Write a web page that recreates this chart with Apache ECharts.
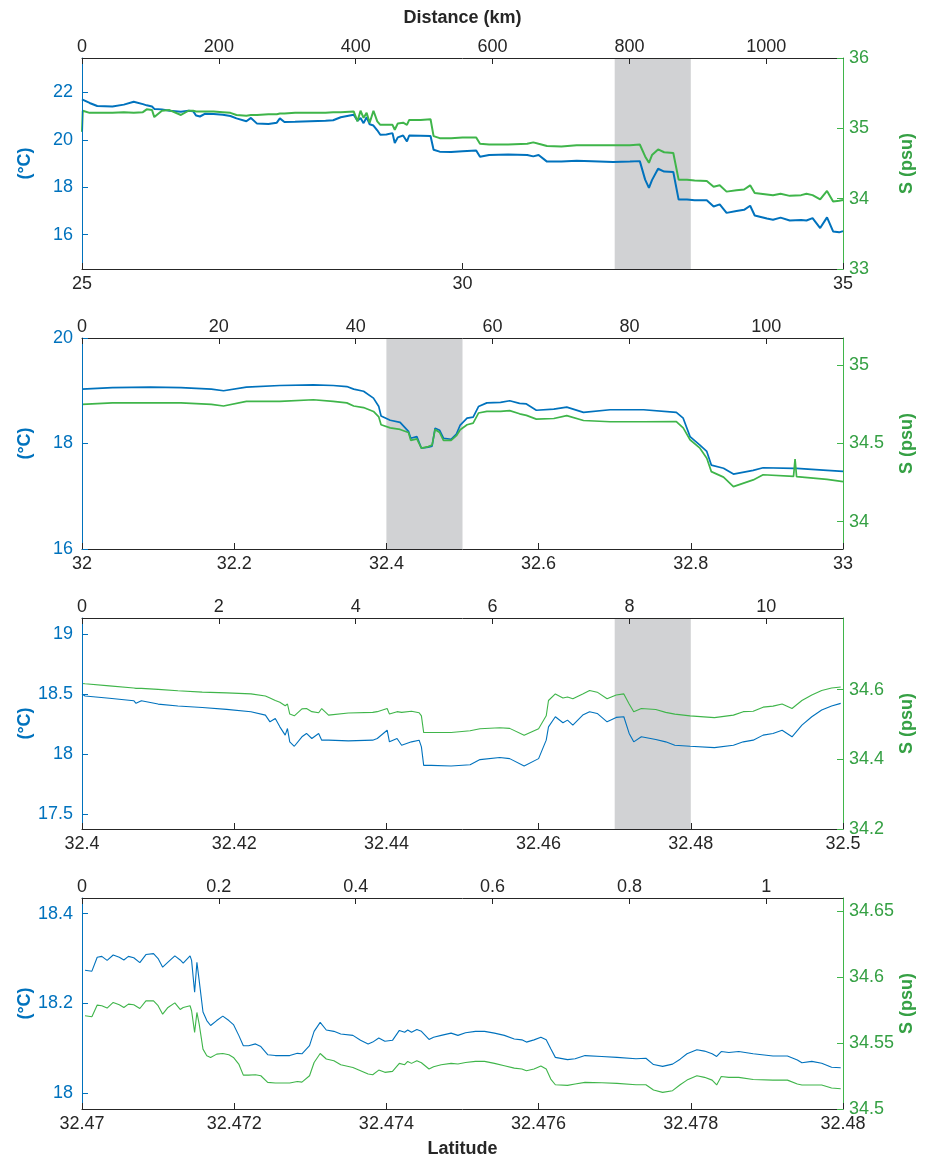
<!DOCTYPE html>
<html>
<head>
<meta charset="utf-8">
<script src="https://cdn.jsdelivr.net/npm/echarts@6/dist/echarts.min.js"></script>
<style>
html,body{margin:0;padding:0;background:#fff;}
#chart{width:927px;height:1159px;}
</style>
</head>
<body>
<div id="chart"></div>
<script>
// ---------------- DATA ----------------
// Panel 1 (latitude 25-35)
const p1Lat = [25.00,25.01,25.10,25.20,25.40,25.55,25.68,25.80,25.85,25.92,
  25.95,26.05,26.15,26.30,26.40,26.46,26.50,26.55,26.62,26.73,
  26.85,26.95,27.03,27.16,27.22,27.30,27.45,27.56,27.60,27.66,
  27.80,28.00,28.20,28.30,28.40,28.57,28.62,28.66,28.70,28.74,
  28.78,28.83,28.88,28.92,29.00,29.08,29.11,29.15,29.22,29.27,
  29.30,29.45,29.58,29.62,29.70,29.85,30.00,30.18,30.23,30.35,
  30.60,30.85,30.93,31.00,31.11,31.30,31.50,31.70,31.98,32.20,
  32.33,32.40,32.45,32.49,32.57,32.65,32.77,32.84,32.95,33.05,
  33.21,33.30,33.38,33.47,33.60,33.70,33.78,33.84,34.00,34.08,
  34.18,34.30,34.45,34.52,34.60,34.70,34.79,34.87,34.95,35.00];
const p1Temp = [21.70,21.70,21.55,21.42,21.40,21.48,21.60,21.50,21.45,21.40,
  21.30,21.28,21.22,21.18,21.22,21.20,21.02,20.98,21.10,21.08,
  21.05,21.00,20.90,20.78,20.92,20.68,20.66,20.72,20.90,20.75,
  20.76,20.78,20.80,20.82,20.95,21.05,20.80,20.92,20.70,20.95,
  20.65,20.60,20.40,20.21,20.22,20.28,19.86,20.10,20.18,19.93,
  20.18,20.17,20.16,19.58,19.50,19.48,19.52,19.55,19.28,19.36,
  19.38,19.36,19.30,19.36,19.08,19.08,19.12,19.10,19.06,19.08,
  19.10,18.32,17.97,18.30,18.78,18.66,18.64,17.48,17.48,17.45,
  17.45,17.19,17.28,16.92,17.00,17.05,17.22,16.81,16.68,16.63,
  16.72,16.60,16.62,16.60,16.70,16.28,16.73,16.14,16.10,16.15];
const p1Sal = [34.95,35.25,35.22,35.22,35.22,35.23,35.22,35.23,35.27,35.26,
  35.16,35.25,35.26,35.19,35.25,35.25,35.24,35.24,35.24,35.24,
  35.23,35.22,35.19,35.18,35.19,35.19,35.20,35.20,35.21,35.21,
  35.22,35.22,35.22,35.23,35.23,35.24,35.10,35.25,35.15,35.22,
  35.08,35.25,35.10,35.05,35.05,35.05,34.98,35.07,35.08,35.05,
  35.12,35.12,35.13,34.89,34.86,34.86,34.87,34.87,34.78,34.77,
  34.77,34.78,34.80,34.78,34.75,34.74,34.76,34.76,34.76,34.76,
  34.77,34.60,34.51,34.62,34.70,34.66,34.65,34.27,34.27,34.26,
  34.25,34.17,34.19,34.10,34.12,34.13,34.19,34.08,34.06,34.05,
  34.07,34.04,34.05,34.07,34.05,33.99,34.11,33.96,33.97,33.98];

// Panel 2 (latitude 32-33)
const p2Lat = [32.000,32.040,32.090,32.130,32.170,32.186,32.216,32.260,32.304,32.330,
  32.348,32.357,32.370,32.383,32.390,32.393,32.405,32.418,32.429,32.432,
  32.440,32.446,32.455,32.460,32.464,32.470,32.475,32.485,32.492,32.497,
  32.506,32.514,32.521,32.532,32.550,32.562,32.575,32.584,32.597,32.620,
  32.637,32.659,32.694,32.738,32.781,32.790,32.799,32.812,32.821,32.827,
  32.843,32.856,32.882,32.895,32.935,32.937,32.939,32.979,33.000];
const p2Temp = [19.03,19.06,19.07,19.06,19.03,19.00,19.07,19.10,19.11,19.10,
  19.08,19.03,18.99,18.86,18.70,18.52,18.44,18.40,18.23,18.10,
  18.13,17.91,17.93,17.95,18.29,18.25,18.10,18.08,18.18,18.35,
  18.48,18.50,18.70,18.77,18.78,18.81,18.76,18.75,18.63,18.65,
  18.69,18.59,18.64,18.64,18.59,18.48,18.13,17.97,17.85,17.59,
  17.53,17.42,17.49,17.54,17.53,17.53,17.53,17.49,17.47];
const p2Sal = [34.750,34.760,34.760,34.760,34.750,34.740,34.770,34.770,34.780,34.770,
  34.760,34.740,34.730,34.705,34.670,34.620,34.600,34.590,34.570,34.520,
  34.530,34.470,34.480,34.490,34.590,34.570,34.520,34.520,34.550,34.588,
  34.620,34.630,34.695,34.705,34.705,34.710,34.690,34.680,34.656,34.660,
  34.678,34.647,34.639,34.639,34.640,34.600,34.524,34.470,34.406,34.320,
  34.285,34.224,34.267,34.300,34.290,34.400,34.288,34.270,34.256];

// Panel 3 (latitude 32.4-32.5)
const p3Lat = [32.4000,32.4004,32.4036,32.4068,32.4071,32.4078,32.4100,32.4126,32.4158,32.4190,
  32.4222,32.4241,32.4247,32.4254,32.4260,32.4267,32.4270,32.4273,32.4279,32.4289,
  32.4295,32.4302,32.4311,32.4315,32.4324,32.4350,32.4382,32.4388,32.4401,32.4404,
  32.4414,32.4420,32.4433,32.4443,32.4446,32.4449,32.4459,32.4485,32.4510,32.4523,
  32.4549,32.4562,32.4581,32.4600,32.4610,32.4613,32.4622,32.4632,32.4638,32.4645,
  32.4658,32.4667,32.4677,32.4690,32.4702,32.4712,32.4719,32.4725,32.4735,32.4754,
  32.4767,32.4779,32.4799,32.4831,32.4856,32.4869,32.4882,32.4895,32.4908,32.4920,
  32.4933,32.4946,32.4959,32.4972,32.4985,32.4997];
const p3Temp = [18.500,18.483,18.464,18.444,18.422,18.444,18.416,18.400,18.388,18.372,
  18.352,18.324,18.268,18.296,18.226,18.157,18.212,18.101,18.064,18.143,
  18.171,18.129,18.171,18.115,18.115,18.109,18.115,18.129,18.198,18.101,
  18.129,18.073,18.101,18.115,18.059,17.905,17.905,17.900,17.910,17.953,
  17.970,17.961,17.900,17.961,18.115,18.226,18.310,18.260,18.282,18.240,
  18.324,18.352,18.338,18.268,18.305,18.310,18.171,18.101,18.143,18.120,
  18.101,18.073,18.064,18.053,18.073,18.101,18.115,18.157,18.171,18.198,
  18.143,18.240,18.310,18.366,18.400,18.422];
const p3Sal = [34.618,34.617,34.611,34.605,34.604,34.604,34.601,34.597,34.593,34.591,
  34.588,34.582,34.576,34.569,34.564,34.554,34.559,34.530,34.525,34.545,
  34.546,34.537,34.534,34.546,34.527,34.533,34.535,34.537,34.546,34.530,
  34.537,34.535,34.538,34.534,34.525,34.477,34.477,34.477,34.482,34.488,
  34.491,34.489,34.469,34.488,34.525,34.569,34.588,34.576,34.579,34.574,
  34.588,34.598,34.593,34.574,34.585,34.588,34.559,34.537,34.546,34.543,
  34.535,34.530,34.525,34.520,34.527,34.537,34.538,34.550,34.553,34.559,
  34.546,34.569,34.585,34.598,34.605,34.608];

// Panel 4 (latitude 32.47-32.48)
const p4Lat = [32.47004,32.47013,32.47020,32.47026,32.47033,32.47041,32.47049,32.47055,32.47061,32.47068,
  32.47076,32.47084,32.47094,32.47100,32.47106,32.47113,32.47122,32.47129,32.47133,32.47142,
  32.47144,32.47148,32.47151,32.47154,32.47159,32.47164,32.47169,32.47177,32.47185,32.47193,
  32.47199,32.47206,32.47212,32.47219,32.47228,32.47235,32.47244,32.47254,32.47273,32.47283,
  32.47289,32.47299,32.47305,32.47313,32.47321,32.47331,32.47340,32.47356,32.47366,32.47376,
  32.47382,32.47390,32.47398,32.47408,32.47417,32.47424,32.47428,32.47433,32.47440,32.47446,
  32.47456,32.47462,32.47472,32.47485,32.47494,32.47504,32.47517,32.47529,32.47542,32.47555,
  32.47568,32.47578,32.47584,32.47594,32.47603,32.47610,32.47616,32.47622,32.47638,32.47648,
  32.47661,32.47683,32.47703,32.47728,32.47741,32.47751,32.47763,32.47776,32.47786,32.47795,
  32.47808,32.47818,32.47828,32.47834,32.47840,32.47850,32.47863,32.47882,32.47908,32.47927,
  32.47940,32.47946,32.47959,32.47972,32.47985,32.47997];
const p4Temp = [18.274,18.272,18.303,18.305,18.296,18.308,18.303,18.297,18.305,18.302,
  18.291,18.309,18.311,18.300,18.281,18.292,18.306,18.297,18.290,18.306,
  18.296,18.225,18.292,18.251,18.181,18.162,18.151,18.162,18.172,18.162,
  18.153,18.129,18.106,18.106,18.110,18.104,18.086,18.084,18.084,18.089,
  18.088,18.106,18.138,18.158,18.141,18.138,18.132,18.129,18.118,18.110,
  18.114,18.123,18.116,18.118,18.140,18.136,18.141,18.136,18.142,18.138,
  18.120,18.125,18.129,18.134,18.129,18.135,18.138,18.138,18.134,18.129,
  18.121,18.119,18.114,18.119,18.125,18.119,18.099,18.080,18.075,18.077,
  18.084,18.082,18.080,18.077,18.078,18.064,18.060,18.065,18.076,18.088,
  18.097,18.094,18.088,18.082,18.093,18.091,18.093,18.088,18.083,18.083,
  18.074,18.068,18.071,18.067,18.058,18.057];
const p4Sal = [34.5707,34.5699,34.5788,34.5783,34.5765,34.5808,34.5790,34.5770,34.5795,34.5790,
  34.5762,34.5820,34.5820,34.5783,34.5719,34.5770,34.5805,34.5755,34.5770,34.5783,
  34.5745,34.5581,34.5732,34.5644,34.5454,34.5404,34.5391,34.5416,34.5421,34.5411,
  34.5391,34.5341,34.5257,34.5257,34.5260,34.5252,34.5202,34.5197,34.5197,34.5209,
  34.5204,34.5252,34.5353,34.5421,34.5379,34.5366,34.5336,34.5315,34.5290,34.5265,
  34.5260,34.5295,34.5278,34.5285,34.5346,34.5336,34.5361,34.5346,34.5366,34.5351,
  34.5303,34.5320,34.5336,34.5346,34.5341,34.5353,34.5361,34.5361,34.5346,34.5328,
  34.5310,34.5303,34.5290,34.5303,34.5326,34.5303,34.5227,34.5184,34.5179,34.5189,
  34.5202,34.5199,34.5194,34.5184,34.5184,34.5144,34.5126,34.5139,34.5184,34.5219,
  34.5252,34.5240,34.5219,34.5182,34.5247,34.5240,34.5240,34.5224,34.5219,34.5219,
  34.5189,34.5182,34.5182,34.5182,34.5159,34.5154];

// Tick labels
const p1LatTicks = [25, 30, 35];
const p1KmTicks = [0, 200, 400, 600, 800, 1000];
const p1TempTicks = [16, 18, 20, 22];
const p1SalTicks = [33, 34, 35, 36];
const p2LatTicks = [32, 32.2, 32.4, 32.6, 32.8, 33];
const p2KmTicks = [0, 20, 40, 60, 80, 100];
const p2TempTicks = [16, 18, 20];
const p2SalTicks = [34, 34.5, 35];
const p3LatTicks = [32.4, 32.42, 32.44, 32.46, 32.48, 32.5];
const p3KmTicks = [0, 2, 4, 6, 8, 10];
const p3TempTicks = [17.5, 18, 18.5, 19];
const p3SalTicks = [34.2, 34.4, 34.6];
const p4LatTicks = [32.47, 32.472, 32.474, 32.476, 32.478, 32.48];
const p4KmTicks = [0, 0.2, 0.4, 0.6, 0.8, 1];
const p4TempTicks = [18, 18.2, 18.4];
const p4SalTicks = [34.5, 34.55, 34.6, 34.65];

// Shaded latitude ranges
const p1Shade = [32, 33];
const p2Shade = [32.4, 32.5];
const p3Shade = [32.47, 32.48];

// ---------------- CHART ----------------
const FONT = '"Liberation Sans", Arial, Helvetica, sans-serif';
const BLUE = '#0072BD', GREEN = '#3FB54A', GREEN_TXT = '#35A044', BLACK = '#262626', SHADE = '#D1D2D4';

const panels = [
  {lat:p1Lat, temp:p1Temp, sal:p1Sal, latR:[25,35], kmR:[0,1112], tR:[14.556,23.444], sR:[33,36],
   latT:p1LatTicks, kmT:p1KmTicks, tT:p1TempTicks, sT:p1SalTicks, shade:p1Shade, top:58, lw:2.0},
  {lat:p2Lat, temp:p2Temp, sal:p2Sal, latR:[32,33], kmR:[0,111.2], tR:[16,20], sR:[33.825,35.175],
   latT:p2LatTicks, kmT:p2KmTicks, tT:p2TempTicks, sT:p2SalTicks, shade:p2Shade, top:338, lw:1.7},
  {lat:p3Lat, temp:p3Temp, sal:p3Sal, latR:[32.4,32.5], kmR:[0,11.12], tR:[17.374,19.134], sR:[34.2,34.806],
   latT:p3LatTicks, kmT:p3KmTicks, tT:p3TempTicks, sT:p3SalTicks, shade:p3Shade, top:618, lw:1.1},
  {lat:p4Lat, temp:p4Temp, sal:p4Sal, latR:[32.47,32.48], kmR:[0,1.112], tR:[17.965,18.435], sR:[34.5,34.66],
   latT:p4LatTicks, kmT:p4KmTicks, tT:p4TempTicks, sT:p4SalTicks, shade:null, top:898, lw:1.1}
];

const fmt = v => String(Math.round(v * 1e6) / 1e6);
const grids = [], xAxes = [], yAxes = [], series = [];

panels.forEach((p, i) => {
  grids.push({left: 82, right: 84, top: p.top, height: 211, containLabel: false, outerBoundsMode: 'none'});
  const tickBase = (vals, color) => ({show: true, inside: true, length: 6, customValues: vals, lineStyle: {color: color, width: 1}});
  const labelBase = (vals, color, margin) => ({show: true, customValues: vals, color: color, fontSize: 18, fontFamily: FONT, margin: margin, formatter: fmt});
  // bottom latitude axis
  xAxes.push({
    gridIndex: i, type: 'value', position: 'bottom', min: p.latR[0], max: p.latR[1], z: 10,
    axisLine: {show: true, onZero: false, lineStyle: {color: BLACK, width: 1}},
    axisTick: tickBase(p.latT, BLACK),
    axisLabel: labelBase(p.latT, BLACK, 6),
    splitLine: {show: false},
    name: i === 3 ? 'Latitude' : '', nameLocation: 'middle', nameGap: 31, nameMoveOverlap: false,
    nameTextStyle: {fontSize: 18, fontWeight: 'bold', color: BLACK, fontFamily: FONT}
  });
  // top distance axis
  xAxes.push({
    gridIndex: i, type: 'value', position: 'top', min: p.kmR[0], max: p.kmR[1], z: 10,
    axisLine: {show: true, onZero: false, lineStyle: {color: BLACK, width: 1}},
    axisTick: tickBase(p.kmT, BLACK),
    axisLabel: labelBase(p.kmT, BLACK, 2),
    splitLine: {show: false},
    name: i === 0 ? 'Distance (km)' : '', nameLocation: 'middle', nameGap: 31, nameMoveOverlap: false,
    nameTextStyle: {fontSize: 18, fontWeight: 'bold', color: BLACK, fontFamily: FONT}
  });
  // left temperature axis
  yAxes.push({
    gridIndex: i, type: 'value', position: 'left', min: p.tR[0], max: p.tR[1], z: 10,
    axisLine: {show: true, onZero: false, lineStyle: {color: BLUE, width: 1}},
    axisTick: tickBase(p.tT, BLUE),
    axisLabel: labelBase(p.tT, BLUE, 9),
    splitLine: {show: false},
    name: '(°C)', nameLocation: 'middle', nameRotate: 90, nameGap: 48, nameMoveOverlap: false,
    nameTextStyle: {fontSize: 18, fontWeight: 'bold', color: BLUE, fontFamily: FONT}
  });
  // right salinity axis
  yAxes.push({
    gridIndex: i, type: 'value', position: 'right', min: p.sR[0], max: p.sR[1], z: 10,
    axisLine: {show: true, onZero: false, lineStyle: {color: GREEN, width: 1}},
    axisTick: tickBase(p.sT, GREEN),
    axisLabel: labelBase(p.sT, GREEN_TXT, 6),
    splitLine: {show: false},
    name: 'S (psu)', nameLocation: 'middle', nameRotate: 90, nameGap: 55, nameMoveOverlap: false,
    nameTextStyle: {fontSize: 18, fontWeight: 'bold', color: GREEN_TXT, fontFamily: FONT}
  });

  const tSeries = {
    type: 'line', xAxisIndex: 2 * i, yAxisIndex: 2 * i, z: 3,
    data: p.lat.map((x, k) => [x, p.temp[k]]),
    showSymbol: false, symbol: 'none', silent: true,
    lineStyle: {color: BLUE, width: p.lw}, itemStyle: {color: BLUE}
  };
  if (p.shade) {
    tSeries.markArea = {
      silent: true, z: 1,
      itemStyle: {color: SHADE, opacity: 1},
      data: [[{xAxis: p.shade[0]}, {xAxis: p.shade[1]}]]
    };
  }
  series.push(tSeries);
  series.push({
    type: 'line', xAxisIndex: 2 * i, yAxisIndex: 2 * i + 1, z: 4,
    data: p.lat.map((x, k) => [x, p.sal[k]]),
    showSymbol: false, symbol: 'none', silent: true,
    lineStyle: {color: GREEN, width: p.lw}, itemStyle: {color: GREEN}
  });
});

const chart = echarts.init(document.getElementById('chart'), null, {renderer: 'canvas'});
chart.setOption({
  animation: false,
  backgroundColor: '#ffffff',
  textStyle: {fontFamily: FONT},
  grid: grids,
  xAxis: xAxes,
  yAxis: yAxes,
  series: series
});
</script>
</body>
</html>
